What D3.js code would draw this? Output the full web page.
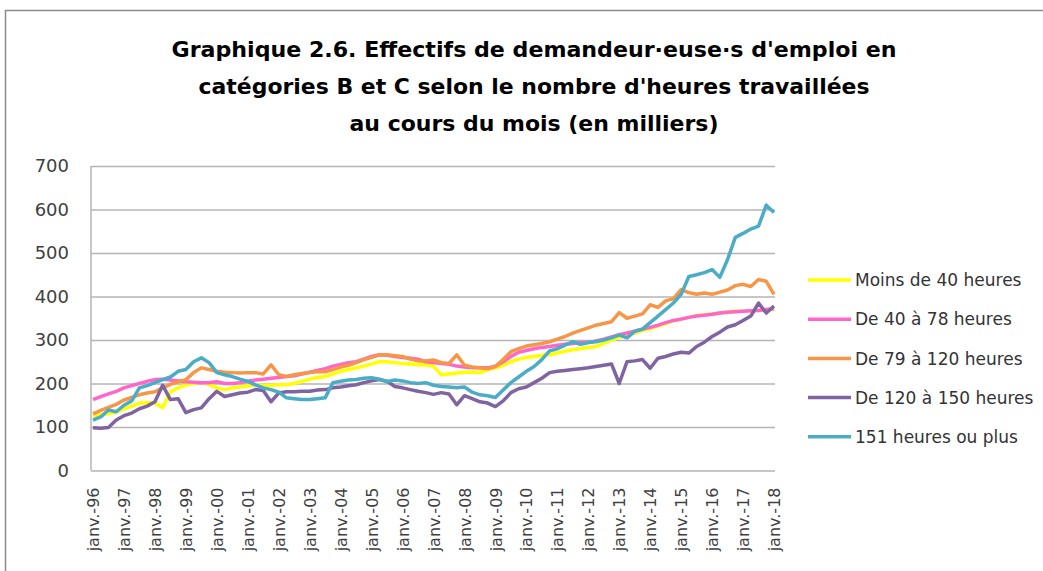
<!DOCTYPE html>
<html>
<head>
<meta charset="utf-8">
<script src="https://cdn.jsdelivr.net/npm/d3@7"></script>
<style>
  body { margin: 0; background: #fff; }
  svg text { font-family: "DejaVu Sans", sans-serif; fill: #404040; }
</style>
</head>
<body>
<div class="drawing"></div>
<script>
// Tick labels (one per january)
var tickLabels = ["janv.-96","janv.-97","janv.-98","janv.-99","janv.-00","janv.-01",
                  "janv.-02","janv.-03","janv.-04","janv.-05","janv.-06","janv.-07",
                  "janv.-08","janv.-09","janv.-10","janv.-11","janv.-12","janv.-13",
                  "janv.-14","janv.-15","janv.-16","janv.-17","janv.-18"];

var seriesNames = ["Moins de 40 heures", "De 40 à 78 heures", "De 79 à 120 heures",
                   "De 120 à 150 heures", "151 heures ou plus"];
var seriesColors = ["#ffff00", "#ff66cc", "#f79646", "#8064a2", "#4bacc6"];

// values read every quarter (janv, avr, juil, oct), from janv. 1996 to janv. 2018
var moins40 = [125,128,131,134, 142,148,155,156, 155,144,181,190, 197,200,202,198,
               190,186,190,192, 195,197,196,196, 197,197,200,205, 210,214,216,222,
               228,232,236,240, 245,250,250,248, 246,245,243,243, 240,220,222,224,
               226,226,225,232, 236,242,250,256, 260,262,265,266, 270,274,278,280,
               283,285,292,300, 306,312,316,322, 326,332,338,344, 348,352,356,358,
               360,362,365,366, 366,367,368,369, 370];
var de40a78 = [163,170,176,182, 190,195,200,205, 209,210,208,206, 204,203,202,202,
               204,200,200,202, 205,208,210,212, 214,216,218,222, 226,230,234,240,
               244,248,250,256, 262,266,265,262, 260,258,256,250, 248,246,244,240,
               238,236,236,236, 240,250,262,272, 276,280,283,285, 288,290,292,294,
               294,298,302,307, 312,316,320,325, 329,334,340,345, 348,352,355,357,
               359,362,364,365, 366,367,368,370, 372];
var de79a120 = [130,138,145,152, 162,168,174,178, 181,190,198,204, 209,225,236,232,
                228,226,225,224, 225,225,222,243, 220,216,220,223, 225,227,227,232,
                238,242,248,255, 260,266,266,264, 262,256,252,252, 254,248,246,266,
                242,238,236,234, 239,255,273,280, 286,289,292,296, 302,308,316,322,
                328,334,338,342, 363,350,355,360, 381,375,390,395, 416,409,405,408,
                405,410,415,425, 428,423,439,435, 405];
var de120a150 = [98,97,99,116, 126,132,142,148, 158,196,163,165, 133,140,144,165,
                 182,170,174,178, 180,186,184,158, 178,181,181,182, 182,185,186,190,
                 192,195,197,202, 206,209,205,193, 190,186,182,179, 175,179,176,151,
                 172,165,158,155, 147,160,179,188, 192,202,212,225, 228,230,232,234,
                 236,239,242,245, 200,250,252,255, 235,258,262,268, 272,270,285,295,
                 308,318,330,335, 345,355,385,362, 378];
var plus151 = [116,123,139,135, 150,160,190,195, 202,209,215,228, 232,250,259,248,
               225,220,216,210, 205,197,190,186, 180,167,165,163, 163,165,167,202,
               205,208,209,212, 213,210,204,208, 206,202,200,202, 196,193,192,190,
               192,180,174,172, 168,185,202,215, 228,239,255,275, 280,288,296,290,
               294,296,300,305, 312,305,320,325, 340,355,370,385, 405,446,450,455,
               462,444,485,536, 545,555,562,610, 593];

var yTicks = [0, 100, 200, 300, 400, 500, 600, 700];

var titleLines = ["Graphique 2.6. Effectifs de demandeur·euse·s d'emploi en",
                  "catégories B et C selon le nombre d'heures travaillées",
                  "au cours du mois (en milliers)"];

var width = 1043, height = 571;
var plotLeft = 91, plotRight = 775, plotTop = 166, plotBottom = 470.5;

var svg = d3.select(".drawing").append("svg")
    .attr("width", width)
    .attr("height", height);

// Frame
svg.append("rect")
    .attr("x", 5.5).attr("y", 10.5)
    .attr("width", width + 10).attr("height", height + 10)
    .attr("fill", "#fff")
    .attr("stroke", "#8c8c8c")
    .attr("stroke-width", 1.5);

// Title
var titleWidths = [725, 671, 369];
svg.selectAll(".title")
    .data(titleLines)
    .enter().append("text")
    .attr("class", "title")
    .attr("x", 534)
    .attr("y", function(d, i) { return 57 + i * 37; })
    .attr("text-anchor", "middle")
    .attr("textLength", function(d, i) { return titleWidths[i]; })
    .attr("lengthAdjust", "spacingAndGlyphs")
    .style("font-size", "21px")
    .style("font-weight", "bold")
    .style("fill", "#000")
    .text(function(d) { return d; });

// Scales
var x = d3.scaleLinear().domain([0, 22]).range([93, 774]);
var y = d3.scaleLinear().domain([0, 700]).range([plotBottom, plotTop]);

// Y axis + grid
var yAxis = svg.append("g")
    .attr("transform", "translate(" + plotLeft + ",0)")
    .call(d3.axisLeft(y).tickValues(yTicks).tickSize(-(plotRight - plotLeft)).tickPadding(22));
yAxis.select(".domain").remove();
yAxis.selectAll("line")
    .attr("stroke", "#b4b4b4")
    .attr("stroke-width", 1.5);
yAxis.selectAll("text")
    .attr("font-family", null)
    .style("font-size", "18px")
    .style("fill", "#404040");

// left axis line
svg.append("line")
    .attr("x1", plotLeft).attr("x2", plotLeft)
    .attr("y1", plotTop).attr("y2", plotBottom)
    .attr("stroke", "#b4b4b4")
    .attr("stroke-width", 1.5);

// X axis
var xAxis = svg.append("g")
    .attr("transform", "translate(0," + plotBottom + ")")
    .call(d3.axisBottom(x)
          .tickValues(d3.range(tickLabels.length))
          .tickFormat(function(i) { return tickLabels[i]; })
          .tickSize(0));
xAxis.select(".domain").remove();
xAxis.selectAll("text")
    .attr("transform", "rotate(-90)")
    .attr("text-anchor", "end")
    .attr("x", -17)
    .attr("y", 0)
    .attr("dy", "0.35em")
    .attr("font-family", null)
    .style("font-size", "16px")
    .style("fill", "#404040");

// Series lines
var series = [moins40, de40a78, de79a120, de120a150, plus151];
var line = d3.line()
    .x(function(d, i) { return x(i / 4); })
    .y(function(d) { return y(d); });

svg.selectAll(".serie")
    .data(series)
    .enter().append("path")
    .attr("class", "serie")
    .attr("d", function(d) { return line(d); })
    .attr("fill", "none")
    .attr("stroke", function(d, i) { return seriesColors[i]; })
    .attr("stroke-width", 3.5)
    .attr("stroke-linejoin", "round");

// Legend
var legend = svg.selectAll(".legend")
    .data(seriesNames)
    .enter().append("g")
    .attr("class", "legend")
    .attr("transform", function(d, i) { return "translate(808," + (280 + i * 39.2) + ")"; });

legend.append("line")
    .attr("x1", 0).attr("x2", 43)
    .attr("stroke", function(d, i) { return seriesColors[i]; })
    .attr("stroke-width", 3.5);

legend.append("text")
    .attr("x", 47)
    .attr("dy", "0.36em")
    .style("font-size", "17px")
    .style("fill", "#333")
    .text(function(d) { return d; });
</script>
</body>
</html>
